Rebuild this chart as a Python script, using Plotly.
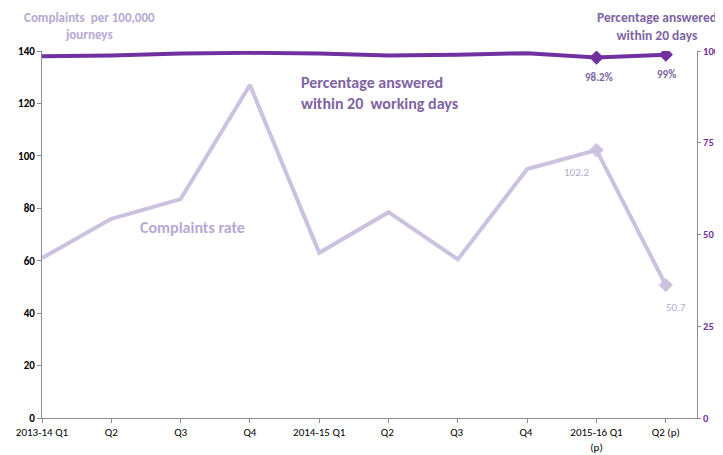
import plotly.graph_objects as go

categories = ["2013-14 Q1", "Q2", "Q3", "Q4", "2014-15 Q1", "Q2 ", "Q3 ", "Q4 ",
              "2015-16 Q1<br>(p)", "Q2 (p)"]
complaints_rate = [61.0, 76.0, 83.5, 127.0, 63.0, 78.5, 60.5, 95.0, 102.2, 50.7]
pct_answered = [98.6, 98.8, 99.3, 99.5, 99.3, 98.8, 99.0, 99.4, 98.2, 99.0]

FONT = "Carlito, Calibri, Lato, sans-serif"
LIGHT = "#CCC1DE"
DARK = "#7030A0"
MID = "#8064A2"
LABEL_LIGHT = "#B7A9D2"

x_idx = list(range(len(categories)))

fig = go.Figure()

fig.add_trace(go.Scatter(
    x=x_idx, y=complaints_rate, mode="lines",
    line=dict(color=LIGHT, width=4), yaxis="y", showlegend=False,
    hoverinfo="skip"))
fig.add_trace(go.Scatter(
    x=x_idx[-2:], y=complaints_rate[-2:], mode="markers",
    marker=dict(symbol="diamond", size=11, color=LIGHT), yaxis="y",
    showlegend=False))

fig.add_trace(go.Scatter(
    x=x_idx, y=pct_answered, mode="lines",
    line=dict(color=DARK, width=4), yaxis="y2", showlegend=False,
    hoverinfo="skip"))
fig.add_trace(go.Scatter(
    x=x_idx[-2:], y=pct_answered[-2:], mode="markers",
    marker=dict(symbol="diamond", size=11, color=DARK), yaxis="y2",
    showlegend=False))

# data labels
fig.add_annotation(x=x_idx[8], y=complaints_rate[8], yref="y", text="102.2",
                   showarrow=False, xshift=-20, yshift=-22,
                   font=dict(family=FONT, size=11, color=LABEL_LIGHT))
fig.add_annotation(x=x_idx[9], y=complaints_rate[9], yref="y", text="50.7",
                   showarrow=False, xshift=10, yshift=-22,
                   font=dict(family=FONT, size=11, color=LABEL_LIGHT))
fig.add_annotation(x=x_idx[8], y=pct_answered[8], yref="y2", text="<b>98.2%</b>",
                   showarrow=False, xshift=2, yshift=-20,
                   font=dict(family=FONT, size=11, color=MID))
fig.add_annotation(x=x_idx[9], y=pct_answered[9], yref="y2", text="<b>99%</b>",
                   showarrow=False, xshift=1, yshift=-20,
                   font=dict(family=FONT, size=11, color=MID))

# text labels
fig.add_annotation(xref="paper", yref="paper", x=0.072, y=1.068, xanchor="center",
                   yanchor="middle", align="center",
                   text="<b>Complaints  per 100,000<br>journeys</b>", showarrow=False,
                   font=dict(family=FONT, size=13, color=LABEL_LIGHT))
fig.add_annotation(xref="paper", yref="paper", x=0.939, y=1.066, xanchor="center",
                   yanchor="middle", align="center",
                   text="<b>Percentage answered<br>within 20 days</b>", showarrow=False,
                   font=dict(family=FONT, size=13.5, color=MID))
fig.add_annotation(xref="paper", yref="paper", x=0.392, y=0.885, xanchor="left",
                   yanchor="middle", align="left",
                   text="<b>Percentage answered<br>within 20  working days</b>",
                   showarrow=False,
                   font=dict(family=FONT, size=16, color=MID))
fig.add_annotation(xref="paper", yref="paper", x=0.147, y=0.52, xanchor="left",
                   yanchor="middle", align="left",
                   text="<b>Complaints rate</b>", showarrow=False,
                   font=dict(family=FONT, size=16, color=LABEL_LIGHT))

# page has an 8px body margin, so the figure is sized to the visible area
fig.update_layout(
    width=715, height=447,
    margin=dict(l=34, r=26, t=43, b=37, autoexpand=False),
    plot_bgcolor="white", paper_bgcolor="white",
    font=dict(family=FONT, size=11, color="black"),
    xaxis=dict(
        tickmode="array", tickvals=x_idx, ticktext=categories,
        range=[0, 9.45], showgrid=False, zeroline=False, automargin=False,
        showline=True, linecolor="#8c8c8c", linewidth=1,
        ticks="outside", ticklen=4, tickcolor="#8c8c8c",
        tickfont=dict(family=FONT, size=11, color="black")),
    yaxis=dict(
        range=[0, 140], tickvals=[0, 20, 40, 60, 80, 100, 120, 140],
        showgrid=False, zeroline=False, showline=True, automargin=False,
        linecolor="#8c8c8c", linewidth=1, ticks="outside", ticklen=4,
        tickcolor="#8c8c8c",
        tickfont=dict(family=FONT, size=11, color="black", weight="bold")),
    yaxis2=dict(
        range=[0, 100], tickvals=[0, 25, 50, 75, 100], overlaying="y",
        side="right", showgrid=False, zeroline=False, showline=True,
        automargin=False,
        linecolor="#8c8c8c", linewidth=1, ticks="outside", ticklen=3,
        tickcolor="#8c8c8c",
        tickfont=dict(family=FONT, size=10.5, color=DARK, weight="bold")),
)

fig.write_html("out.html")
